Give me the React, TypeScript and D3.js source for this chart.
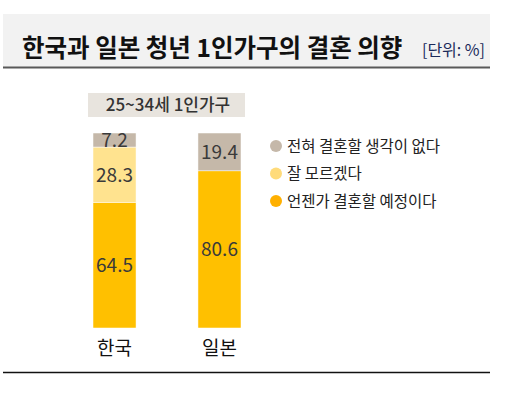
import React from "react";
import * as d3 from "d3";

const countries = ["한국", "일본"];
const never = [7.2, 19.4];
const unsure = [28.3, 0];
const someday = [64.5, 80.6];

const seriesNames = ["전혀 결혼할 생각이 없다", "잘 모르겠다", "언젠가 결혼할 예정이다"];
const seriesColors = ["#c5b8a9", "#ffe38f", "#ffc000"];
const legendColors = ["#c5b8a9", "#ffdb7a", "#ffb000"];

const width = 512;
const height = 396;

const App = () => {
  const x = d3.scaleBand().domain(countries).range([93, 241]).paddingInner(0.59).paddingOuter(0);
  const y = d3.scaleLinear().domain([0, 100]).range([328, 133]);

  // stack from bottom: someday, unsure, never
  const rows = countries.map((c, i) => ({ country: c, someday: someday[i], unsure: unsure[i], never: never[i] }));
  const stacked = d3.stack<any>().keys(["someday", "unsure", "never"])(rows);
  const colorByKey: Record<string, string> = {
    never: seriesColors[0],
    unsure: seriesColors[1],
    someday: seriesColors[2],
  };

  const font = "'Noto Sans CJK KR', 'Noto Sans', sans-serif";

  return (
    <svg width={width} height={height} style={{ position: "absolute", left: 0, top: 0 }}>
      <rect x={0} y={0} width={width} height={height} fill="#fff" />
      {/* title band */}
      <rect x={3} y={14} width={487} height={53} fill="#f2f2f2" />
      <line x1={3} x2={490} y1={67.5} y2={67.5} stroke="#595959" strokeWidth={2} />
      <text x={22} y={57} fontFamily={font} fontSize={24.5} fontWeight="bold" fill="#111">
        한국과 일본 청년 1인가구의 결혼 의향
      </text>
      <text x={485} y={56} textAnchor="end" fontFamily={font} fontSize={16} fill="#1a2a5a">
        [단위: %]
      </text>

      {/* subtitle box */}
      <rect x={88} y={93} width={157} height={24} fill="#e8e4de" />
      <text x={168} y={111} textAnchor="middle" fontFamily={font} fontSize={17} fontWeight={500} fill="#333">
        25~34세 1인가구
      </text>

      {stacked.map((layer) => (
        <g key={layer.key}>
          {layer.map((d, i) =>
            d[1] - d[0] > 0 ? (
              <g key={i}>
                <rect
                  x={x(countries[i])}
                  y={y(d[1])}
                  width={x.bandwidth()}
                  height={y(d[0]) - y(d[1])}
                  fill={colorByKey[layer.key as string]}
                  stroke="#fff"
                  strokeWidth={0.5}
                />
                <text
                  x={(x(countries[i]) as number) + x.bandwidth() / 2}
                  y={(y(d[0]) + y(d[1])) / 2 + 7}
                  textAnchor="middle"
                  fontFamily={font}
                  fontSize={19}
                  fill="#3a3a3a"
                >
                  {(d[1] - d[0]).toFixed(1)}
                </text>
              </g>
            ) : null
          )}
        </g>
      ))}

      {countries.map((c) => (
        <text
          key={c}
          x={(x(c) as number) + x.bandwidth() / 2}
          y={355}
          textAnchor="middle"
          fontFamily={font}
          fontSize={19}
          fill="#111"
        >
          {c}
        </text>
      ))}

      {/* legend */}
      {seriesNames.map((s, i) => (
        <g key={s} transform={`translate(276, ${146 + i * 27.5})`}>
          <circle cx={0} cy={0} r={6} fill={legendColors[i]} />
          <text x={11} y={5.5} fontFamily={font} fontSize={15.5} fill="#222">
            {s}
          </text>
        </g>
      ))}

      <line x1={3} x2={490} y1={372.5} y2={372.5} stroke="#111" strokeWidth={1.5} />
    </svg>
  );
};

export default App;
